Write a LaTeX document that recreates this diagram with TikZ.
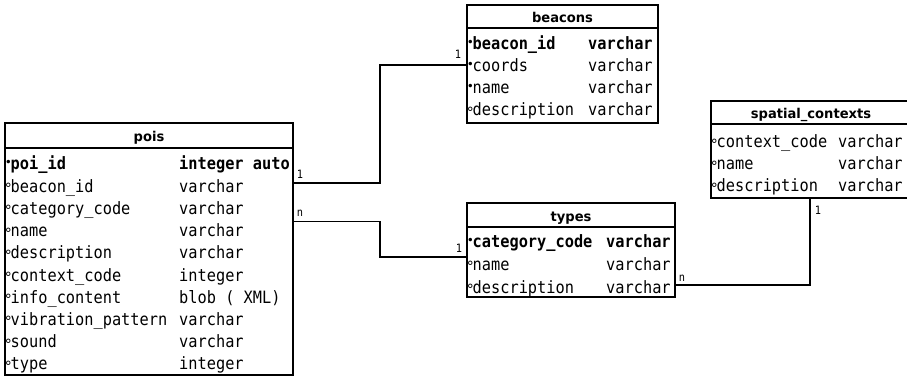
\documentclass[tikz,border=0pt]{standalone}
\usepackage{fontspec}
\newfontfamily\fmono[FakeStretch=0.9]{DejaVu Sans Mono}
\newfontfamily\fhead[FakeStretch=0.97]{DejaVu Sans}
\newfontfamily\fsym{DejaVu Sans}
\newcommand\mkf{\makebox[4.5pt][c]{\fsym\mdseries\fontsize{12}{12}\selectfont\raisebox{3pt}{•}}}
\newcommand\mko{\makebox[4.5pt][c]{\fsym\mdseries\fontsize{14}{14}\selectfont\raisebox{-1.5pt}{°}}}
\begin{document}
\begin{tikzpicture}[x=1pt,y=-1pt,
  box/.style={draw, line width=1.8pt, inner sep=0pt, outer sep=0pt, anchor=north west},
  sep/.style={line width=1.8pt},
  fld/.style={inner sep=0pt, anchor=base west, font=\fmono\fontsize{17}{17}\selectfont},
  hdr/.style={inner sep=0pt, anchor=base, font=\fhead\bfseries\fontsize{13.5}{13.5}\selectfont},
  conn/.style={line width=1.8pt},
  card/.style={inner sep=0pt, font=\fmono\fontsize{11.5}{11.5}\selectfont}]
\useasboundingbox (0,0) rectangle (907,379);
\clip (0,0) rectangle (907,379);

% ---------- pois ----------
\node[box, minimum width=288pt, minimum height=252pt] (pois) at (5,123) {};
\draw[sep] (5,148) -- (293,148);
\node[hdr] (poish) at (149,141.5) {pois};
\node[fld] (p0a) at (6,170)   {\mkf\bfseries poi\_id};
\node[fld] (p0b) at (179,170) {\bfseries integer auto};
\node[fld] (p1a) at (6,192.2) {\mko beacon\_id};
\node[fld] (p1b) at (179,192.2) {varchar};
\node[fld] (p2a) at (6,214.4) {\mko category\_code};
\node[fld] (p2b) at (179,214.4) {varchar};
\node[fld] (p3a) at (6,236.6) {\mko name};
\node[fld] (p3b) at (179,236.6) {varchar};
\node[fld] (p4a) at (6,258.8) {\mko description};
\node[fld] (p4b) at (179,258.8) {varchar};
\node[fld] (p5a) at (6,281) {\mko context\_code};
\node[fld] (p5b) at (179,281) {integer};
\node[fld] (p6a) at (6,303.2) {\mko info\_content};
\node[fld] (p6b) at (179,303.2) {blob ( XML)};
\node[fld] (p7a) at (6,325.4) {\mko vibration\_pattern};
\node[fld] (p7b) at (179,325.4) {varchar};
\node[fld] (p8a) at (6,347.6) {\mko sound};
\node[fld] (p8b) at (179,347.6) {varchar};
\node[fld] (p9a) at (6,369.8) {\mko type};
\node[fld] (p9b) at (179,369.8) {integer};

% ---------- beacons ----------
\node[box, minimum width=191pt, minimum height=118pt] (beacons) at (467,5) {};
\draw[sep] (467,28) -- (658,28);
\node[hdr] (beaconsh) at (562.5,23) {beacons};
\node[fld] (b0a) at (468,50) {\mkf\bfseries beacon\_id};
\node[fld] (b0b) at (588,50) {\bfseries varchar};
\node[fld] (b1a) at (468,72) {\mkf coords};
\node[fld] (b1b) at (588,72) {varchar};
\node[fld] (b2a) at (468,94) {\mkf name};
\node[fld] (b2b) at (588,94) {varchar};
\node[fld] (b3a) at (468,116) {\mko description};
\node[fld] (b3b) at (588,116) {varchar};

% ---------- types ----------
\node[box, minimum width=208pt, minimum height=94pt] (types) at (467,203) {};
\draw[sep] (467,227) -- (675,227);
\node[hdr] (typesh) at (571,221.5) {types};
\node[fld] (t0a) at (468,248) {\mkf\bfseries category\_code};
\node[fld] (t0b) at (606,248) {\bfseries varchar};
\node[fld] (t1a) at (468,270.5) {\mko name};
\node[fld] (t1b) at (606,270.5) {varchar};
\node[fld] (t2a) at (468,293) {\mko description};
\node[fld] (t2b) at (606,293) {varchar};

% ---------- spatial_contexts ----------
\node[box, minimum width=200pt, minimum height=97pt] (spatial) at (711,101) {};
\draw[sep] (711,124) -- (911,124);
\node[hdr] (spatialh) at (811,119) {spatial\_contexts};
\node[fld] (s0a) at (712,148) {\mko context\_code};
\node[fld] (s0b) at (838,148) {varchar};
\node[fld] (s1a) at (712,170) {\mko name};
\node[fld] (s1b) at (838,170) {varchar};
\node[fld] (s2a) at (712,192) {\mko description};
\node[fld] (s2b) at (838,192) {varchar};

% ---------- connectors ----------
\draw[conn] (pois.east |- 0,183) -- (380,183) |- (beacons.west |- 0,65);
\draw[conn] (pois.east |- 0,221.5) -- (380,221.5) |- (types.west |- 0,257);
\draw[conn] (types.east |- 0,285) -| (spatial.south -| 810,0);

% ---------- cardinalities ----------
\node[card] (c1) at (300,174) {1};
\node[card] (c2) at (458,54) {1};
\node[card] (c3) at (300,213) {n};
\node[card] (c4) at (459,248.5) {1};
\node[card] (c5) at (682,278) {n};
\node[card] (c6) at (818,210) {1};
\end{tikzpicture}
\end{document}
